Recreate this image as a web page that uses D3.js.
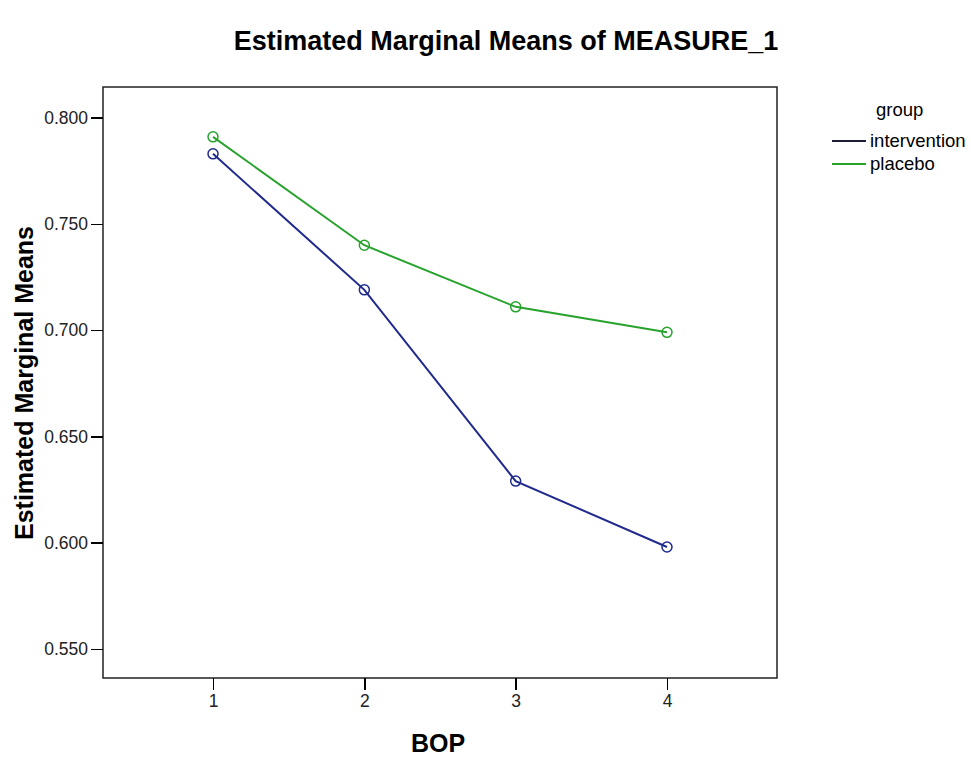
<!DOCTYPE html>
<html lang="en">
<head>
<meta charset="UTF-8">
<title>Estimated Marginal Means</title>
<script src="https://cdn.jsdelivr.net/npm/d3@7"></script>
<style>
    body { margin: 0; background: #fff; }
    svg { display: block; }
    svg text { font-family: "Liberation Sans", Arial, sans-serif; fill: #000; }
    .axis path, .axis line { stroke: #000; stroke-width: 1.5; shape-rendering: crispEdges; }
    .axis text { font-size: 17.5px; fill: #222; }
</style>
</head>
<body>
<svg width="971" height="758"></svg>
<script>
// data
var bopLevels = [1, 2, 3, 4];
var interventionMeans = [0.783, 0.719, 0.629, 0.598];
var placeboMeans = [0.791, 0.740, 0.711, 0.699];
var yTicks = [0.55, 0.60, 0.65, 0.70, 0.75, 0.80];
var groupNames = ["intervention", "placebo"];
var lineColors = ["#1f2a8c", "#27a32d"];
var legendColors = ["#1c1c3c", "#27a32d"];

(function () {
    var svg = d3.select("svg");
    var pLeft = 103, pRight = 777, pTop = 87, pBottom = 678;

    var x = d3.scaleLinear().domain([0.273, 4.727]).range([pLeft, pRight]);
    var y = d3.scaleLinear().domain([0.53635, 0.81445]).range([pBottom, pTop]);

    // frame
    svg.append("rect")
        .attr("x", pLeft).attr("y", pTop)
        .attr("width", pRight - pLeft).attr("height", pBottom - pTop)
        .attr("fill", "none").attr("stroke", "#222").attr("stroke-width", 1.5);

    svg.append("g")
        .attr("class", "axis")
        .attr("transform", "translate(" + pLeft + ",0)")
        .call(d3.axisLeft(y).tickValues(yTicks).tickFormat(d3.format(".3f")).tickSize(12).tickPadding(3))
        .call(function (g) { g.select(".domain").remove(); });

    svg.append("g")
        .attr("class", "axis")
        .attr("transform", "translate(0," + pBottom + ")")
        .call(d3.axisBottom(x).tickValues(bopLevels).tickFormat(d3.format("d")).tickSize(12).tickPadding(5))
        .call(function (g) { g.select(".domain").remove(); });

    // title and axis names
    svg.append("text")
        .text("Estimated Marginal Means of MEASURE_1")
        .attr("x", 506).attr("y", 50)
        .attr("text-anchor", "middle")
        .style("font-size", "27px").style("font-weight", "700");

    svg.append("text")
        .text("Estimated Marginal Means")
        .attr("transform", "translate(33,383) rotate(-90)")
        .attr("text-anchor", "middle")
        .style("font-size", "25px").style("font-weight", "700");

    svg.append("text")
        .text("BOP")
        .attr("x", 438).attr("y", 752)
        .attr("text-anchor", "middle")
        .style("font-size", "25px").style("font-weight", "700");

    // lines and markers
    var series = [interventionMeans, placeboMeans];
    var line = d3.line()
        .x(function (d, i) { return x(bopLevels[i]); })
        .y(function (d) { return y(d); });

    series.forEach(function (vals, k) {
        svg.append("path")
            .datum(vals)
            .attr("d", line)
            .attr("fill", "none")
            .attr("stroke", lineColors[k])
            .attr("stroke-width", 2);
        svg.selectAll(".pt" + k)
            .data(vals)
            .enter()
            .append("circle")
            .attr("cx", function (d, i) { return x(bopLevels[i]); })
            .attr("cy", function (d) { return y(d); })
            .attr("r", 5)
            .attr("fill", "none")
            .attr("stroke", lineColors[k])
            .attr("stroke-width", 1.5);
    });

    // legend
    var legend = svg.append("g").attr("transform", "translate(832,0)");
    legend.append("text")
        .text("group")
        .attr("x", 44).attr("y", 116)
        .style("font-size", "18.5px");
    groupNames.forEach(function (name, k) {
        var ly = 141 + k * 23;
        legend.append("line")
            .attr("x1", 0).attr("x2", 34)
            .attr("y1", ly).attr("y2", ly)
            .attr("stroke", legendColors[k]).attr("stroke-width", 2);
        legend.append("text")
            .text(name)
            .attr("x", 38).attr("y", ly + 6)
            .style("font-size", "18.5px");
    });
})();
</script>
</body>
</html>
